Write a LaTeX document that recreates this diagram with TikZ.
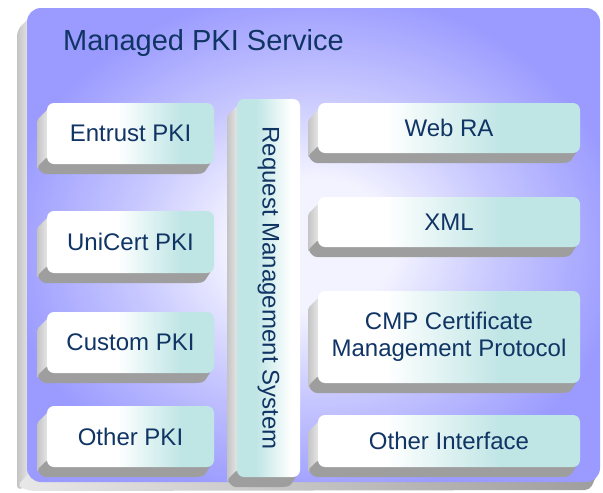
\documentclass[tikz,border=0pt]{standalone}
\usepackage{fontspec}
\setmainfont{Liberation Sans}
\definecolor{navy}{RGB}{16,52,100}
\definecolor{capcyan}{RGB}{192,229,229}
\definecolor{glowc}{RGB}{243,243,255}
\definecolor{midlav}{RGB}{200,200,255}
\definecolor{panelpurple}{RGB}{155,155,255}
\definecolor{sidedark}{RGB}{158,158,158}
\definecolor{sidelightA}{RGB}{196,196,196}
\definecolor{sidelightB}{RGB}{232,232,232}

\pgfdeclarehorizontalshading{faceL}{100bp}{color(0bp)=(white); color(46bp)=(white); color(65bp)=(capcyan); color(100bp)=(capcyan)}
\pgfdeclarehorizontalshading{faceR}{100bp}{color(0bp)=(white); color(38bp)=(white); color(60bp)=(capcyan); color(100bp)=(capcyan)}
\pgfdeclarehorizontalshading{faceM}{100bp}{color(0bp)=(capcyan); color(40bp)=(capcyan); color(68bp)=(white); color(100bp)=(white)}
\pgfdeclareradialshading{panelglow}{\pgfpoint{0bp}{0bp}}{color(0bp)=(glowc); color(7bp)=(glowc); color(16bp)=(midlav); color(27bp)=(panelpurple); color(50bp)=(panelpurple)}

\tikzset{
  keyface/.style={rounded corners=7pt, inner sep=0pt, outer sep=0pt, text=navy,
    font=\fontsize{24}{27}\selectfont, align=center, shade},
  keyL/.style={keyface, shading=faceL},
  keyR/.style={keyface, shading=faceR},
  keyM/.style={keyface, shading=faceM},
  lightside/.style={left color=sidelightA, right color=sidelightB},
  darkside/.style={fill=sidedark},
}

% #1 name, #2 x1, #3 y1, #4 x2, #5 y2 (image pixels, y downward), #6 style, #7 text
\newcommand{\keycap}[7]{%
  \pgfmathsetmacro{\kw}{#4-#2}\pgfmathsetmacro{\kh}{#5-#3}%
  \shade[lightside, rounded corners=2pt] (#2-10,#3+17) -- (#2+1,#3+6) -- (#2+1,#5) -- (#2-10,#5+5) -- cycle;
  \fill[darkside, rounded corners=3pt] (#2-10,#5+3) -- (#2,#5-7) -- (#4-1,#5-5) -- (#4-10,#5+9) -- (#4-16,#5+10) -- (#2-4,#5+10) -- cycle;
  \node[#6, minimum width=\kw pt, minimum height=\kh pt] (#1) at ({(#2+#4)/2},{(#3+#5)/2}) {#7};
}

\begin{document}
\begin{tikzpicture}[x=1pt,y=-1pt]
  \useasboundingbox (0,0) rectangle (603,493);
  % panel extrusion
  \shade[lightside, rounded corners=6pt] (17,30) -- (30,17) -- (30,484) -- (17,491) -- cycle;
  \shade[left color=sidelightB, right color=sidedark, rounded corners=5pt] (17,486) -- (30,472) -- (598,472) -- (590,490) -- (30,491) -- cycle;
  % panel face
  \shade[shading=panelglow, rounded corners=14pt] (27,8) rectangle (600,482);
  \node[anchor=base west, text=navy, font=\fontsize{29}{32}\selectfont, inner sep=0pt] (title) at (63,50) {Managed PKI Service};

  \keycap{entrust}{47}{103}{214}{164}{keyL}{Entrust PKI}
  \keycap{unicert}{47}{211}{214}{273}{keyL}{UniCert PKI}
  \keycap{custom}{47}{312}{214}{373}{keyL}{Custom PKI}
  \keycap{otherpki}{47}{406}{214}{467}{keyL}{Other PKI}
  \keycap{rms}{237}{99}{300}{477}{keyM}{\rotatebox{-90}{Request Management System}}
  \keycap{webra}{318}{103}{580}{153}{keyR}{Web RA}
  \keycap{xml}{318}{197}{580}{247}{keyR}{XML}
  \keycap{cmp}{318}{291}{580}{383}{keyR}{CMP Certificate\\Management Protocol}
  \keycap{otherif}{318}{415}{580}{467}{keyR}{Other Interface}
\end{tikzpicture}
\end{document}
